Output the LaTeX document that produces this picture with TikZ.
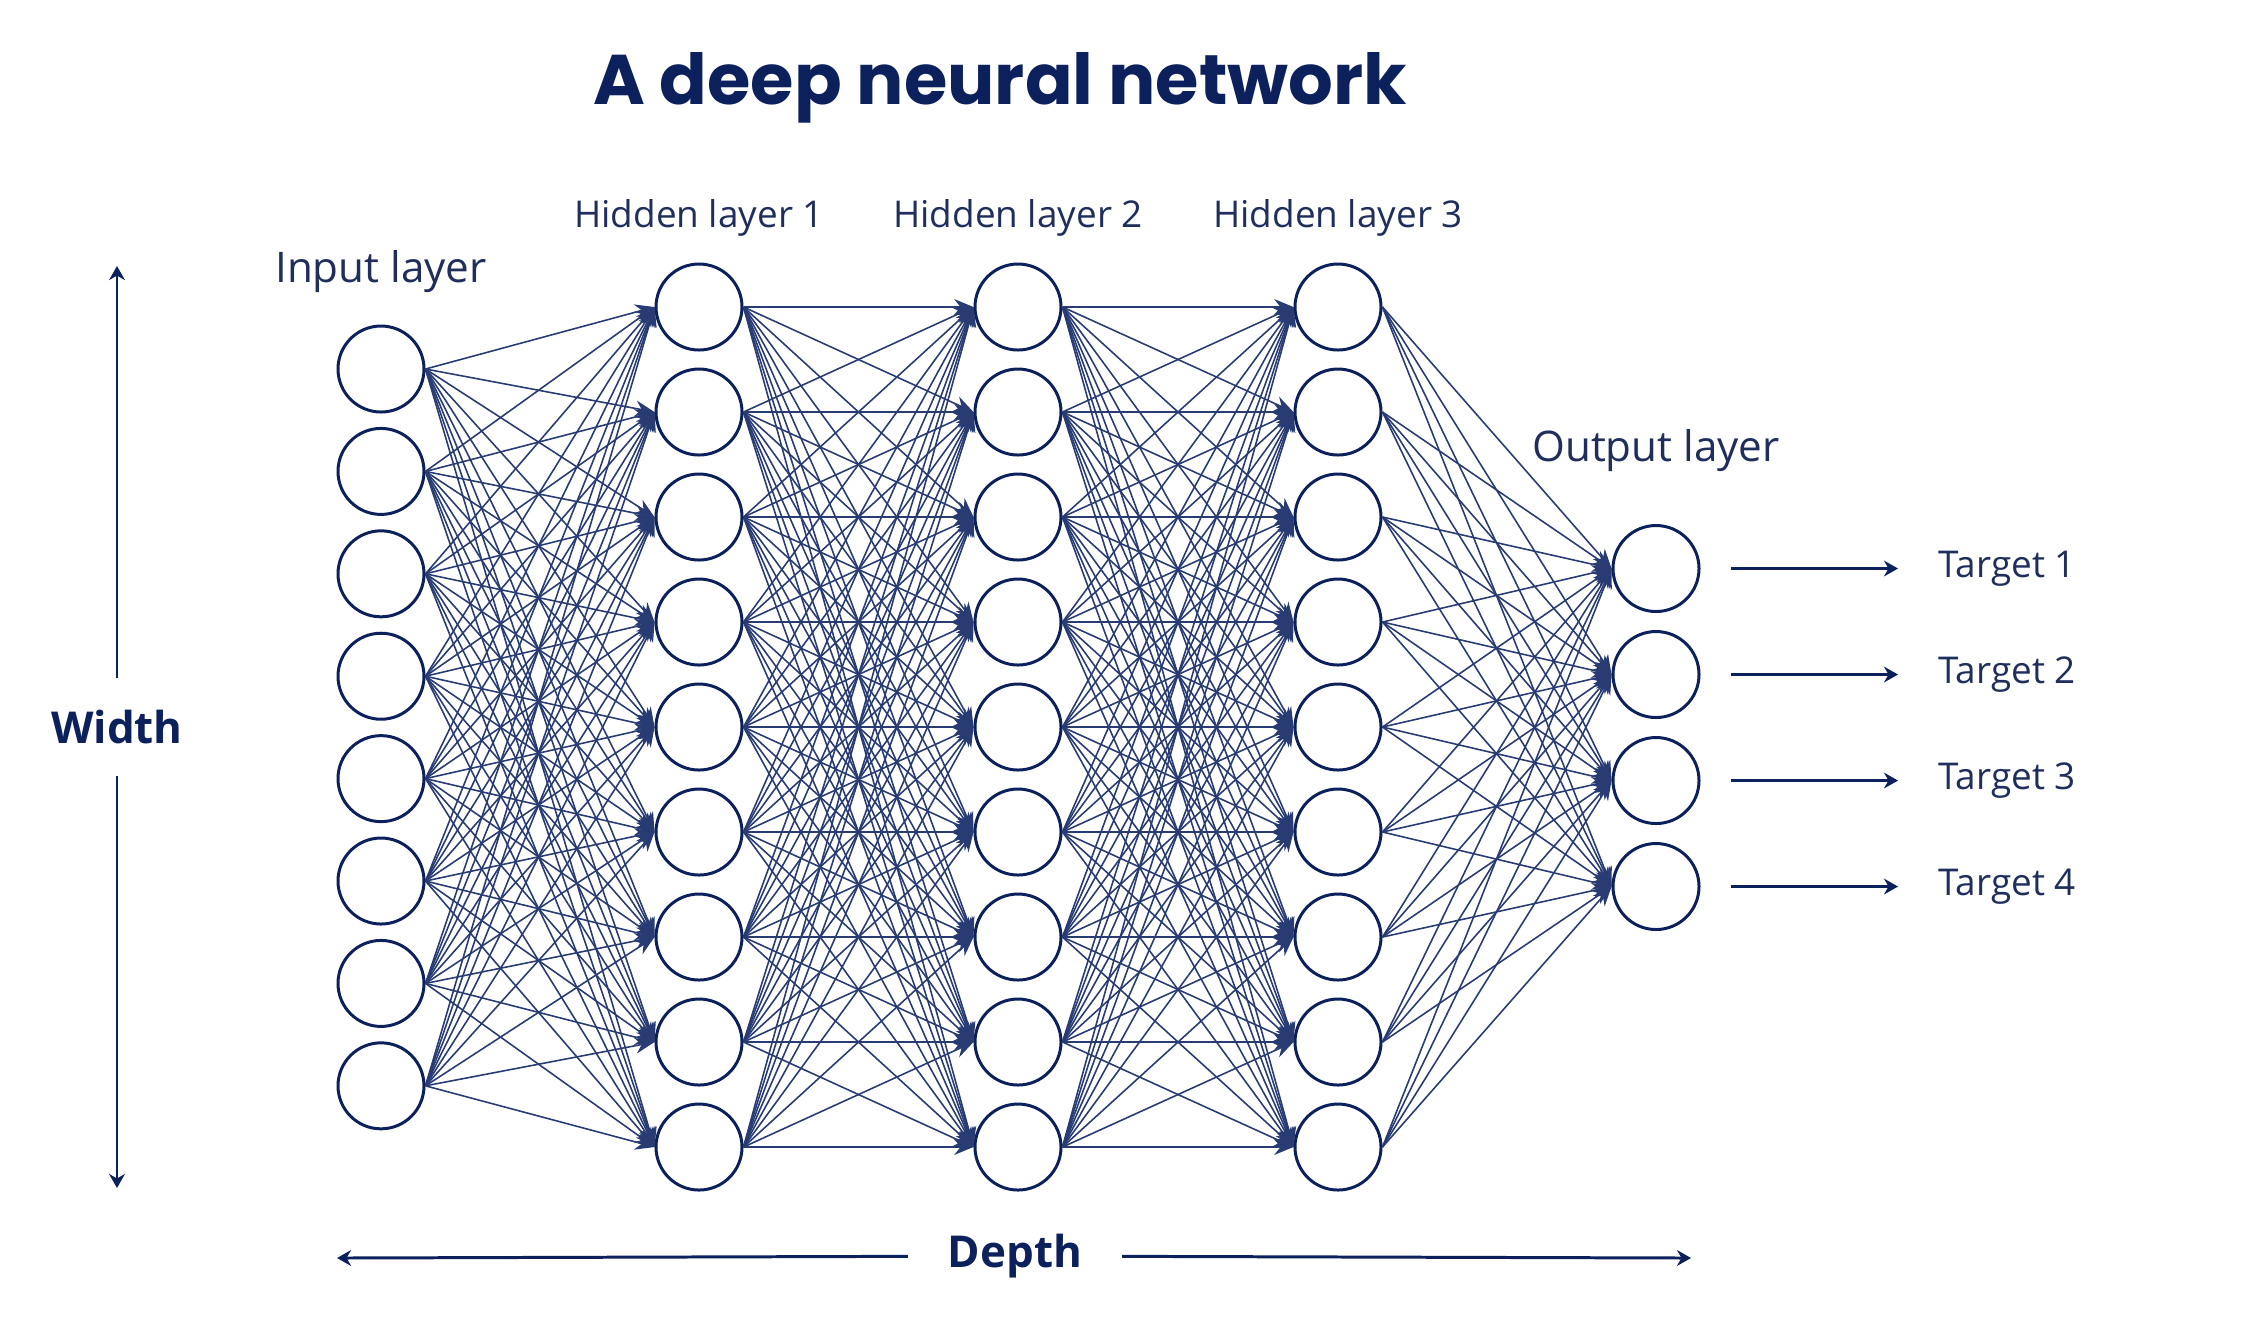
\documentclass[tikz,border=0pt]{standalone}
\usepackage{fontspec}
\setmainfont{Open Sans}
\newfontfamily\titlefont{Poppins}
\usepackage{xcolor}
\usepackage{tikz}
\usetikzlibrary{arrows.meta, positioning}
\definecolor{navy}{RGB}{12,32,92}
\definecolor{labelblue}{RGB}{32,46,92}
\definecolor{edgeblue}{RGB}{40,60,115}
\tikzstyle{neuron} = [circle, draw=navy, line width=0.85pt, minimum size=0.86cm, inner sep=0pt]
\tikzstyle{edge} = [draw=edgeblue, line width=0.45pt, -{Stealth[length=5.5pt,width=4.5pt]}]
\tikzstyle{layerlabel} = [text=labelblue, font=\fontsize{12}{14}\selectfont]
\tikzstyle{hiddenlabel} = [text=labelblue, font=\fontsize{10.5}{12}\selectfont]
\tikzstyle{target} = [text=labelblue, font=\fontsize{10.5}{12}\selectfont, anchor=west]
\tikzstyle{axislabel} = [text=navy, font=\fontsize{12.5}{14}\selectfont\bfseries]
\tikzstyle{arrow} = [draw=navy, line width=0.6pt, -{Stealth[length=4pt,width=4.5pt]}]
\tikzstyle{axis} = [draw=navy, line width=0.85pt, -{Stealth[length=4pt,width=4.5pt]}]

\begin{document}
\begin{tikzpicture}[node distance=0.5cm]
        \useasboundingbox (0,0) rectangle (22.41,-13.35);
        % Title
        \node [text=navy, font=\titlefont\bfseries\fontsize{20}{24}\selectfont] (title) at (10.0,-0.88) {A deep neural network};

        % Neurons
        \foreach \i in {1,...,8}
            \node [neuron] (in\i) at (3.81,{-3.69-(\i-1)*1.024}) {};
        \foreach \j in {1,...,9} {
            \node [neuron] (ha\j) at (6.99,{-3.07-(\j-1)*1.05}) {};
            \node [neuron] (hb\j) at (10.18,{-3.07-(\j-1)*1.05}) {};
            \node [neuron] (hc\j) at (13.38,{-3.07-(\j-1)*1.05}) {};
        }
        \foreach \k in {1,...,4}
            \node [neuron] (out\k) at (16.56,{-5.685-(\k-1)*1.06}) {};

        % Layer labels
        \node [layerlabel, above=0.19cm of in1] (inlabel) {Input layer};
        \node [hiddenlabel, above=0.14cm of ha1] (halabel) {Hidden layer 1};
        \node [hiddenlabel, above=0.14cm of hb1] (hblabel) {Hidden layer 2};
        \node [hiddenlabel, above=0.14cm of hc1] (hclabel) {Hidden layer 3};
        \node [layerlabel, above=0.4cm of out1] (outlabel) {Output layer};

        % Connections
        \foreach \i in {1,...,8}
            \foreach \j in {1,...,9}
                \draw [edge] (in\i.east) -- (ha\j.west);
        \foreach \i in {1,...,9}
            \foreach \j in {1,...,9} {
                \draw [edge] (ha\i.east) -- (hb\j.west);
                \draw [edge] (hb\i.east) -- (hc\j.west);
            }
        \foreach \i in {1,...,9}
            \foreach \k in {1,...,4}
                \draw [edge] (hc\i.east) -- (out\k.west);

        % Targets
        \foreach \k in {1,...,4} {
            \node [target] (tgt\k) at (19.26,{-5.685-(\k-1)*1.06}) {Target \k};
            \draw [arrow, shorten <=0.3cm, shorten >=0.28cm] (out\k.east) -- (tgt\k.west);
        }

        % Width and depth
        \node [axislabel, minimum height=0.96cm] (width) at (1.17,-7.27) {Width};
        \coordinate (wtop) at (1.17,-2.66);
        \coordinate (wbot) at (1.17,-11.88);
        \draw [axis] (width) -- (wtop);
        \draw [axis] (width) -- (wbot);
        \node [axislabel, minimum width=2.13cm] (depth) at (10.15,-12.56) {Depth};
        \coordinate (dleft) at (3.37,-12.58);
        \coordinate (dright) at (16.91,-12.58);
        \draw [axis] (depth) -- (dleft);
        \draw [axis] (depth) -- (dright);
    \end{tikzpicture}
\end{document}
